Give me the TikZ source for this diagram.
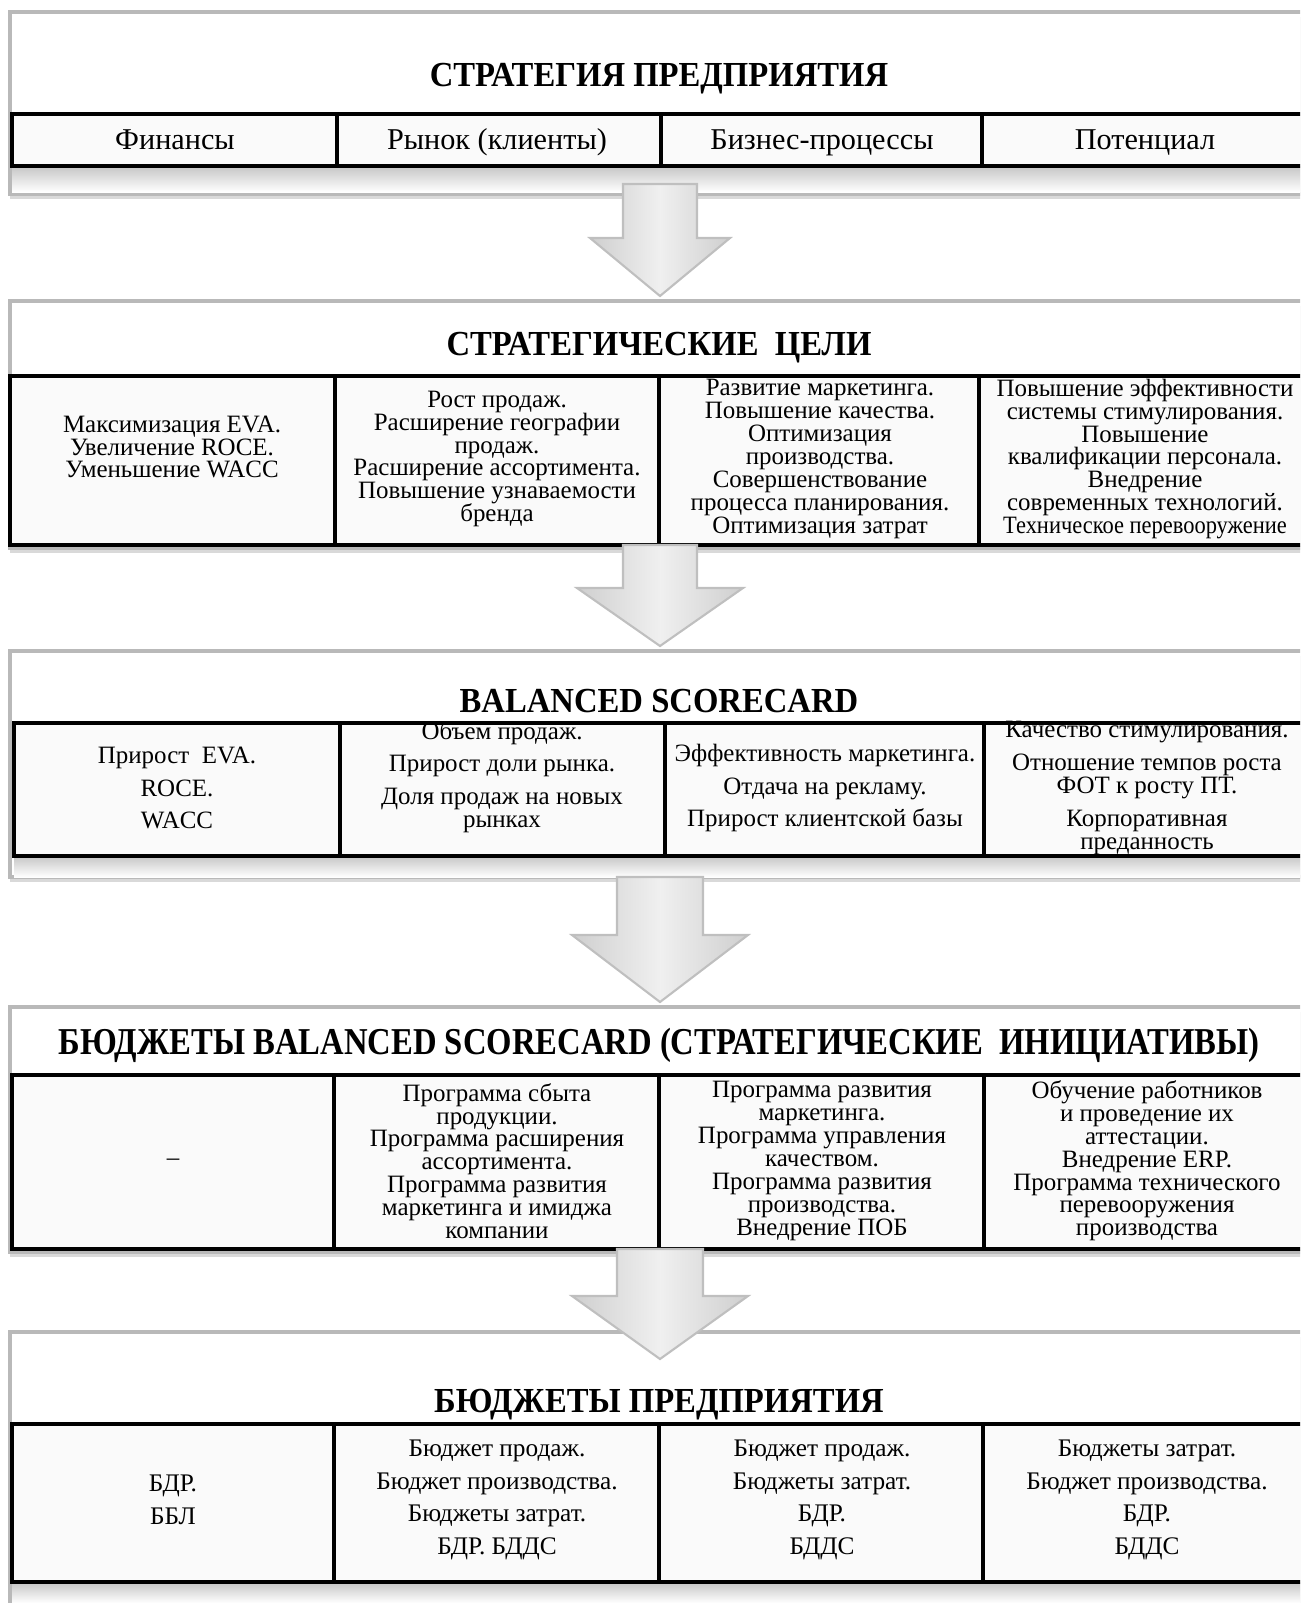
\documentclass[tikz,border=0pt]{standalone}
\usepackage{fontspec}
\usepackage{graphicx}
\setmainfont{Liberation Serif}
\usetikzlibrary{calc,shadows}
\newcommand{\tightlines}{\setlength{\lineskiplimit}{-5pt}}

\begin{document}
\begin{tikzpicture}[x=0.1mm,y=-0.1mm,
	panel/.style={draw=gray!55,line width=1pt,fill=white,inner sep=0pt,outer sep=0pt,
		drop shadow={shadow xshift=0pt,shadow yshift=-0.5mm,opacity=.3}},
	cell/.style={draw=black,line width=0.9pt,fill=gray!4},
	band/.style={top color=gray!45,bottom color=white},
	ttl/.style={inner sep=0pt,font=\fontsize{10}{12}\selectfont\bfseries},
	headtxt/.style={align=center,inner sep=0pt,text height=1.6ex,text depth=.4ex,font=\fontsize{8.6}{10}\selectfont},
	celltxt/.style={align=center,inner sep=0pt,font=\fontsize{7.1}{6.5}\selectfont\tightlines},
	budtxt/.style={align=center,inner sep=0pt,font=\fontsize{7.2}{9.3}\selectfont},
	blockarrow/.style={draw=gray!50,line width=0.6pt,left color=gray!38,right color=gray!38,middle color=gray!12}]
	\useasboundingbox (0,0) rectangle (1300,1603);
	\clip (0,0) rectangle (1300,1603);
	%	\draw [color=gray!50,opacity=0.5] [step=100] (0,0) grid (1300,1603);
	
	% panels
	\node[panel,minimum width=130mm,minimum height=18.2mm] (p1) at (660,103) {};
	\node[panel,minimum width=130mm,minimum height=24.7mm] (p2) at (660,424.5) {};
	\node[panel,minimum width=130mm,minimum height=22.6mm] (p3) at (660,764) {};
	\node[panel,minimum width=130mm,minimum height=24.5mm] (p4) at (660,1129.5) {};
	\node[panel,minimum width=130mm,minimum height=28.8mm] (p5) at (660,1476) {};
	
	% shade under the tables
	\shade[band] (12,166) rectangle (1310,192);
	\shade[band] (14,856) rectangle (1310,877);
	\shade[band] (12,1582) rectangle (1310,1603);
	
	% tables
	\foreach \xa/\xb in {12/337,337/661,661/982,982/1310} \draw[cell] (\xa,114) rectangle (\xb,166);
	\foreach \xa/\xb in {10/335,335/659,659/979,979/1310} \draw[cell] (\xa,376) rectangle (\xb,545);
	\foreach \xa/\xb in {14/340,340/665,665/984,984/1310} \draw[cell] (\xa,723) rectangle (\xb,856);
	\foreach \xa/\xb in {12/334,334/659,659/984,984/1310} \draw[cell] (\xa,1075) rectangle (\xb,1249);
	\foreach \xa/\xb in {12/334,334/659,659/983,983/1310} \draw[cell] (\xa,1424) rectangle (\xb,1582);
	
	% titles
	\node[ttl] (t1) at (659,79) {\scalebox{0.93}[1]{СТРАТЕГИЯ ПРЕДПРИЯТИЯ}};
	\node[ttl] (t2) at (659,348) {\scalebox{0.93}[1]{СТРАТЕГИЧЕСКИЕ\ \ ЦЕЛИ}};
	\node[ttl] (t3) at (659,701) {\scalebox{0.93}[1]{BALANCED SCORECARD}};
	\node[ttl] (t4) at (659,1045) {\scalebox{0.93}[1.08]{БЮДЖЕТЫ BALANCED SCORECARD (СТРАТЕГИЧЕСКИЕ\ \ ИНИЦИАТИВЫ)}};
	\node[ttl] (t5) at (659,1405) {\scalebox{0.93}[1]{БЮДЖЕТЫ ПРЕДПРИЯТИЯ}};
	
	% perspectives
	\node[headtxt] (fin) at (175,140) {Финансы};
	\node[headtxt] (mkt) at (497,140) {Рынок (клиенты)};
	\node[headtxt] (bp) at (822,140) {Бизнес-процессы};
	\node[headtxt] (pot) at (1145,140) {Потенциал};
	
	% goals
	\node[celltxt] (g1) at (172,447) {Максимизация EVA.\\Увеличение ROCE.\\Уменьшение WACC};
	\node[celltxt] (g2) at (497,459) {Рост продаж.\\Расширение географии\\продаж.\\Расширение ассортимента.\\Повышение узнаваемости\\бренда};
	\node[celltxt] (g3) at (820,459) {Развитие маркетинга.\\Повышение качества.\\Оптимизация\\производства.\\Совершенствование\\процесса планирования.\\Оптимизация затрат};
	\node[celltxt] (g4) at (1145,459) {Повышение эффективности\\системы стимулирования.\\Повышение\\квалификации персонала.\\Внедрение\\современных технологий.\\\scalebox{0.9}[1]{Техническое перевооружение}};
	
	% scorecard
	\node[celltxt] (k1) at (177,788) {Прирост\ \ EVA.\\[2.8pt]ROCE.\\[2.8pt]WACC};
	\node[celltxt] (k2) at (502,777) {Объем продаж.\\[2.8pt]Прирост доли рынка.\\[2.8pt]Доля продаж на новых\\рынках};
	\node[celltxt] (k3) at (825,788) {Эффективность маркетинга.\\[2.8pt]Отдача на рекламу.\\[2.8pt]Прирост клиентской базы};
	\node[celltxt] (k4) at (1147,788) {Качество стимулирования.\\[2.8pt]Отношение темпов роста\\ФОТ к росту ПТ.\\[2.8pt]Корпоративная\\преданность};
	
	% initiatives
	\node[celltxt] (i1) at (173,1162) {--};
	\node[celltxt] (i2) at (497,1161) {Программа сбыта\\продукции.\\Программа расширения\\ассортимента.\\Программа развития\\маркетинга и имиджа\\компании};
	\node[celltxt] (i3) at (822,1161) {Программа развития\\маркетинга.\\Программа управления\\качеством.\\Программа развития\\производства.\\Внедрение ПОБ};
	\node[celltxt] (i4) at (1147,1161) {Обучение работников\\и проведение их\\аттестации.\\Внедрение ERP.\\Программа технического\\перевооружения\\производства};
	
	% budgets
	\node[budtxt] (b1) at (173,1500) {БДР.\\ББЛ};
	\node[budtxt] (b2) at (497,1500) {Бюджет продаж.\\Бюджет производства.\\Бюджеты затрат.\\БДР. БДДС};
	\node[budtxt] (b3) at (822,1500) {Бюджет продаж.\\Бюджеты затрат.\\БДР.\\БДДС};
	\node[budtxt] (b4) at (1147,1500) {Бюджеты затрат.\\Бюджет производства.\\БДР.\\БДДС};
	
	% arrows between the levels
	\foreach \ya/\yb/\yc/\sw/\hw in {184/238/296/37/70,545/588/646/37/83,877/935/1002/43/88,1249/1296/1359/43/88}
	\draw[blockarrow] (660-\sw,\ya) -- (660+\sw,\ya) -- (660+\sw,\yb) -- (660+\hw,\yb) -- (660,\yc) -- (660-\hw,\yb) -- (660-\sw,\yb) -- cycle;
\end{tikzpicture}
\end{document}
